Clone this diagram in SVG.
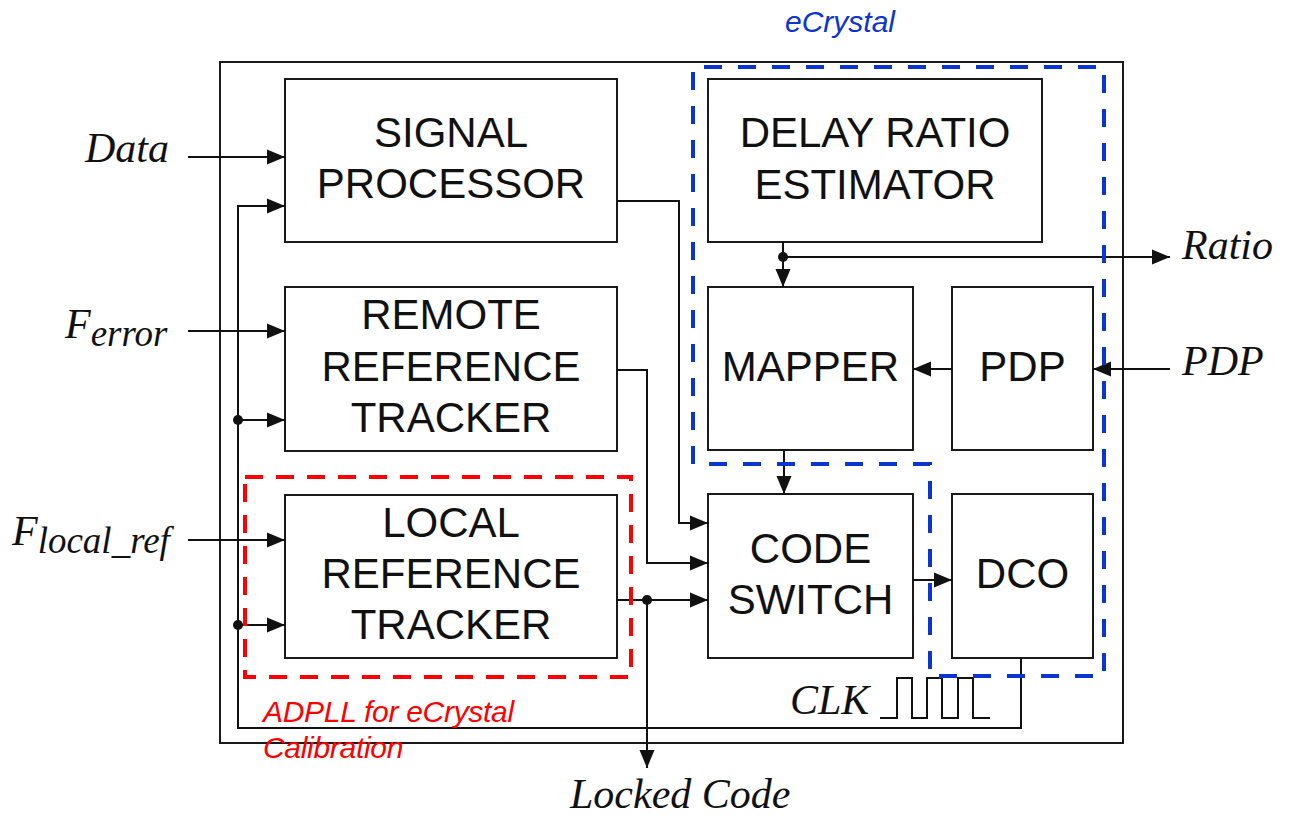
<svg xmlns="http://www.w3.org/2000/svg" width="1289" height="821" viewBox="0 0 1289 821">
  <style>
    .box { fill: #ffffff; stroke: #1a1a1a; stroke-width: 2; }
    .lbl { font-family: "Liberation Sans", Arial, sans-serif; font-size: 42px; fill: #111111; text-anchor: middle; }
    .sig { font-family: "Liberation Serif", "Times New Roman", serif; font-style: italic; font-size: 42px; fill: #111111; }
    .sub { font-size: 37px; }
    .wire { fill: none; stroke: #111111; stroke-width: 2; }
    .arrow { marker-end: url(#head); }
    .dot { fill: #111111; }
    .blue-zone { fill: none; stroke: #0a35d0; stroke-width: 4; stroke-dasharray: 18 16; }
    .red-zone { fill: none; stroke: #ff0000; stroke-width: 4; stroke-dasharray: 18 13; }
    .note-blue { font-family: "Liberation Sans", Arial, sans-serif; font-style: italic; font-size: 30px; fill: #0a35d0; }
    .note-red { font-family: "Liberation Sans", Arial, sans-serif; font-style: italic; font-size: 30px; fill: #ff0000; letter-spacing: -0.3px; }
  </style>
  <defs>
    <marker id="head" markerUnits="userSpaceOnUse" markerWidth="18" markerHeight="16" refX="18" refY="8" orient="auto">
      <path d="M0,0.5 L18,8 L0,15.5 Z" fill="#111111"/>
    </marker>
  </defs>

  <rect width="1289" height="821" fill="#ffffff"/>

  <!-- chip outline -->
  <rect id="chip" x="220" y="62" width="903" height="681" fill="none" stroke="#1a1a1a" stroke-width="2"/>

  <g id="signal-processor">
    <rect class="box" x="285" y="79" width="332" height="163"/>
    <text class="lbl" x="451" y="147">SIGNAL</text>
    <text class="lbl" x="451" y="198">PROCESSOR</text>
  </g>
  <g id="remote-tracker">
    <rect class="box" x="285" y="287" width="332" height="164"/>
    <text class="lbl" x="451" y="329">REMOTE</text>
    <text class="lbl" x="451" y="381">REFERENCE</text>
    <text class="lbl" x="451" y="432">TRACKER</text>
  </g>
  <g id="local-tracker">
    <rect class="box" x="285" y="495" width="332" height="163"/>
    <text class="lbl" x="451" y="537">LOCAL</text>
    <text class="lbl" x="451" y="588">REFERENCE</text>
    <text class="lbl" x="451" y="639">TRACKER</text>
  </g>
  <g id="delay-ratio-estimator">
    <rect class="box" x="708" y="79" width="334" height="163"/>
    <text class="lbl" x="875" y="147">DELAY RATIO</text>
    <text class="lbl" x="875" y="199">ESTIMATOR</text>
  </g>
  <g id="mapper">
    <rect class="box" x="708" y="287" width="205" height="163"/>
    <text class="lbl" x="810.5" y="381">MAPPER</text>
  </g>
  <g id="pdp">
    <rect class="box" x="952" y="287" width="141" height="163"/>
    <text class="lbl" x="1022.5" y="381">PDP</text>
  </g>
  <g id="code-switch">
    <rect class="box" x="708" y="494" width="205" height="164"/>
    <text class="lbl" x="810.5" y="563">CODE</text>
    <text class="lbl" x="810.5" y="614">SWITCH</text>
  </g>
  <g id="dco">
    <rect class="box" x="952" y="494" width="141" height="164"/>
    <text class="lbl" x="1022.5" y="588">DCO</text>
  </g>

  <g id="connectors">
    <!-- external inputs -->
    <path class="wire arrow" d="M188,157 H285"/>
    <path class="wire arrow" d="M188,331 H285"/>
    <path class="wire arrow" d="M188,540 H285"/>
    <!-- DCO clock feedback loop -->
    <path class="wire arrow" d="M1021,658 V728 H238 V206 H285"/>
    <path class="wire arrow" d="M238,420 H285"/>
    <path class="wire arrow" d="M238,625 H285"/>
    <circle class="dot" cx="238" cy="420" r="5"/>
    <circle class="dot" cx="238" cy="625" r="5"/>
    <!-- tracker outputs into code switch -->
    <path class="wire arrow" d="M617,201 H679 V523 H708"/>
    <path class="wire arrow" d="M617,370 H647 V563 H708"/>
    <path class="wire arrow" d="M617,600 H708"/>
    <circle class="dot" cx="647" cy="600" r="5"/>
    <path class="wire arrow" d="M647,600 V768"/>
    <!-- eCrystal path -->
    <path class="wire arrow" d="M783,242 V287"/>
    <circle class="dot" cx="783" cy="257" r="5"/>
    <path class="wire arrow" d="M783,257 H1170"/>
    <path class="wire arrow" d="M1170,369 H1093"/>
    <path class="wire arrow" d="M952,369 H913"/>
    <path class="wire arrow" d="M784,450 V494"/>
    <path class="wire arrow" d="M913,580 H952"/>
  </g>

  <!-- clock waveform -->
  <path class="wire" d="M880,718 H897 V678 H912 V718 H927 V678 H942 V718 H958 V678 H973 V718 H990"/>

  <!-- region outlines -->
  <path id="ecrystal-zone" class="blue-zone" d="M693,464 V67 H1104 V676 H930 V464 Z"/>
  <rect id="adpll-zone" class="red-zone" x="245" y="477" width="386" height="200"/>

  <!-- signal labels -->
  <text class="sig" x="85" y="162">Data</text>
  <text class="sig" x="65" y="338">F<tspan class="sub" dy="8">error</tspan></text>
  <text class="sig" x="12" y="545">F<tspan class="sub" dy="8">local_ref</tspan></text>
  <text class="sig" x="1182" y="259">Ratio</text>
  <text class="sig" x="1182" y="375">PDP</text>
  <text class="sig" x="790" y="714">CLK</text>
  <text class="sig" x="570" y="808">Locked Code</text>

  <text class="note-blue" x="785" y="32">eCrystal</text>
  <text class="note-red" x="263" y="722">ADPLL for eCrystal</text>
  <text class="note-red" x="263" y="758">Calibration</text>
</svg>
